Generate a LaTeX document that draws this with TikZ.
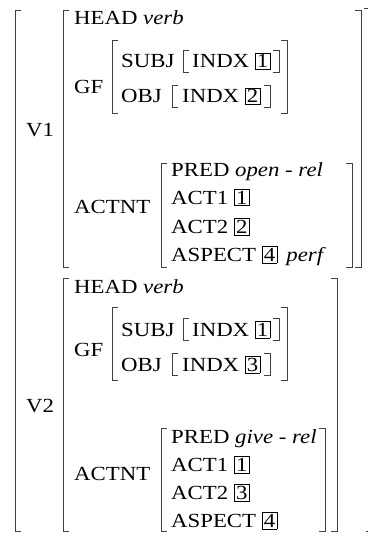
\documentclass[tikz,border=0pt]{standalone}
\usepackage{fontspec}
\setmainfont[FakeStretch=1.14]{Liberation Serif}
\tikzset{
  lbl/.style={anchor=base west, inner sep=0pt, font=\fontsize{20}{24}\selectfont},
  brk/.style={line width=0.8pt, draw=black!75},
}
\newcommand\avmbox[1]{{\setlength\fboxsep{1.5pt}\setlength\fboxrule{0.6pt}\fbox{#1}}}
\newcommand\avmL[3]{\draw[brk] (#1+6,#2) -- (#1,#2) -- (#1,#3) -- (#1+6,#3);}
\newcommand\avmR[3]{\draw[brk] (#1-6,#2) -- (#1,#2) -- (#1,#3) -- (#1-6,#3);}
\begin{document}
\begin{tikzpicture}[x=1pt,y=-1pt]
\useasboundingbox (0,0) rectangle (369,540);
% ---------- V1 ----------
\node[lbl] (v1) at (26,137) {V1};
\node[lbl] (head1) at (74,25) {HEAD \textit{verb}};
\node[lbl] (gf1) at (74,94) {GF};
\node[lbl] (subj1) at (121,68) {SUBJ};
\node[lbl] (indxa1) at (192,68) {INDX \avmbox{1}};
\node[lbl] (obj1) at (121,103) {OBJ};
\node[lbl] (indxb1) at (182,103) {INDX \avmbox{2}};
\node[lbl] (actnt1) at (74,213) {ACTNT};
\node[lbl] (pred1) at (171,176) {PRED \textit{open - rel}};
\node[lbl] (act11) at (171,204) {ACT1 \avmbox{1}};
\node[lbl] (act21) at (171,233) {ACT2 \avmbox{2}};
\node[lbl] (asp1) at (171,261) {ASPECT \avmbox{4}\hspace{9pt}\textit{perf}};
\avmL{15}{10}{531}
\avmL{63}{10}{267}\avmR{361}{10}{267}
\avmL{112}{40}{113}\avmR{287}{40}{113}
\avmL{183}{50}{72}\avmR{279}{50}{72}
\avmL{172}{85}{107}\avmR{270}{85}{107}
\avmL{161}{163}{267}\avmR{352}{163}{267}
% ---------- V2 ----------
\node[lbl] (v2) at (26,412) {V2};
\node[lbl] (head2) at (74,293) {HEAD \textit{verb}};
\node[lbl] (gf2) at (74,356) {GF};
\node[lbl] (subj2) at (121,336) {SUBJ};
\node[lbl] (indxa2) at (192,336) {INDX \avmbox{1}};
\node[lbl] (obj2) at (121,371) {OBJ};
\node[lbl] (indxb2) at (182,371) {INDX \avmbox{3}};
\node[lbl] (actnt2) at (74,480) {ACTNT};
\node[lbl] (pred2) at (171,443) {PRED \textit{give - rel}};
\node[lbl] (act12) at (171,471) {ACT1 \avmbox{1}};
\node[lbl] (act22) at (171,499) {ACT2 \avmbox{3}};
\node[lbl] (asp2) at (171,527) {ASPECT \avmbox{4}};
\avmL{63}{278}{531}\avmR{337}{278}{531}
\avmL{112}{307}{380}\avmR{287}{307}{380}
\avmL{183}{318}{340}\avmR{279}{318}{340}
\avmL{172}{353}{375}\avmR{270}{353}{375}
\avmL{161}{428}{531}\avmR{325}{428}{531}
% outer right bracket remnants
\draw[brk] (364,8) -- (368,8);
\draw[brk] (366,531) -- (367.5,531);
\end{tikzpicture}
\end{document}
